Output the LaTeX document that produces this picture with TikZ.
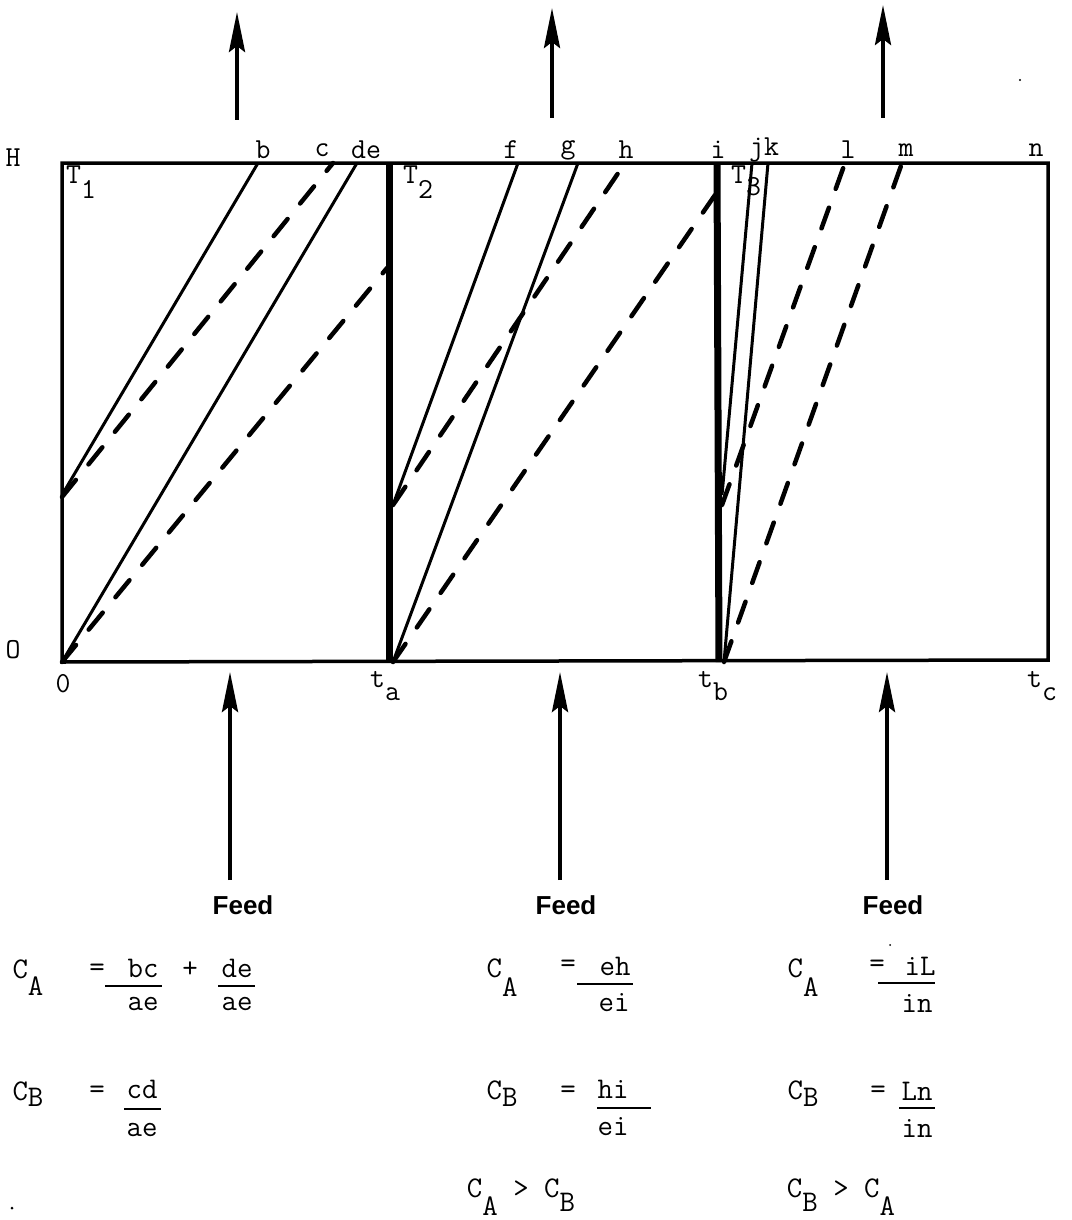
\documentclass[tikz,border=0pt]{standalone}
\usepackage{fontspec}
\newfontfamily\feedfont{Liberation Sans}
\usetikzlibrary{arrows.meta}
\begin{document}
\begin{tikzpicture}[x=1pt,y=-1pt,
  frame/.style={line width=3.5pt},
  divider/.style={line width=7pt},
  solidline/.style={line width=3pt},
  dashline/.style={line width=4.5pt,dash pattern=on 22pt off 20pt,line cap=round},
  flow/.style={line width=4pt,-{Stealth[length=40pt,width=16pt,inset=6pt]}},
  lab/.style={font=\ttfamily\fontsize{29}{29}\selectfont,inner sep=0pt},
  eq/.style={font=\ttfamily\fontsize{30}{30}\selectfont,inner sep=0pt},
  feed/.style={font=\feedfont\bfseries\fontsize{26}{26}\selectfont,inner sep=0pt},
  bar/.style={line width=1.6pt}]
\useasboundingbox (0,0) rectangle (1071,1220);
% frame corners
\coordinate (O) at (62,662);
\coordinate (TL) at (62,163);
\coordinate (TR) at (1048,163);
\coordinate (BR) at (1048,660);
\coordinate (ta0) at (389,662); \coordinate (ta1) at (389,163);
\coordinate (tb0) at (719,662); \coordinate (tb1) at (717,163);
\draw[frame] (O) -- (TL) -- (TR) -- (BR) -- cycle;
\draw[divider] (ta0) -- (ta1);
\draw[divider] (tb0) -- (tb1);
% top points
\coordinate (b) at (258,163);
\coordinate (c) at (333,163);
\coordinate (d) at (357,163);
\coordinate (f) at (518,163);
\coordinate (g) at (578,163);
\coordinate (h) at (625,163);
\coordinate (j) at (752,163);
\coordinate (k) at (768,163);
\coordinate (l) at (845,163);
\coordinate (m) at (902,163);
% start points
\coordinate (s1) at (62,495);
\coordinate (s1d) at (62,497);
\coordinate (s2) at (393,505);
\coordinate (s2b) at (393,662);
\coordinate (s3) at (722,495);
\coordinate (s3d) at (722,505);
\coordinate (s3b) at (724,662);
\coordinate (ea) at (387,268);
\coordinate (eb) at (715,195);
% T1
\draw[solidline] (s1) -- (b);
\draw[dashline] (s1d) -- (c);
\draw[solidline] (O) -- (d);
\draw[dashline] (O) -- (ea);
% T2
\draw[solidline] (s2) -- (f);
\draw[dashline] (s2) -- (h);
\draw[solidline] (s2b) -- (g);
\draw[dashline] (s2b) -- (eb);
% T3
\draw[solidline] (s3) -- (j);
\draw[solidline] (s3b) -- (k);
\draw[dashline] (s3d) -- (l);
\draw[dashline] (s3b) -- (m);
% top labels
\node[lab] (lb) at (263,150) {b};
\node[lab] (lc) at (322,150) {c};
\node[lab] (lde) at (366,150) {de};
\node[lab] (lf) at (511,150) {f};
\node[lab] (lg) at (568,150) {g};
\node[lab] (lh) at (626,150) {h};
\node[lab] (li) at (718,150) {i};
\node[lab] (ljk) at (764,150) {jk};
\node[lab] (ll) at (848,150) {l};
\node[lab] (lm) at (906,150) {m};
\node[lab] (ln) at (1036,150) {n};
\node[lab] (lH) at (13,158) {H};
\node[lab] (lO) at (13,650) {O};
\node[lab,anchor=north west] (T1) at (66,166) {T\raisebox{-15pt}{1}};
\node[lab,anchor=north west] (T2) at (403,166) {T\raisebox{-15pt}{2}};
\node[lab,anchor=north west] (T3) at (731,166) {T\raisebox{-12pt}{3}};
% bottom labels
\node[lab] (l0) at (63,684) {0};
\node[lab,anchor=north west] (lta) at (370,671) {t\raisebox{-13pt}{a}};
\node[lab,anchor=north west] (ltb) at (698,671) {t\raisebox{-13pt}{b}};
\node[lab,anchor=north west] (ltc) at (1027,671) {t\raisebox{-13pt}{c}};
% vent arrows (top)
\coordinate (u1a) at (237,120); \coordinate (u1b) at (237,12);
\coordinate (u2a) at (552,118); \coordinate (u2b) at (552,8);
\coordinate (u3a) at (883,118); \coordinate (u3b) at (883,5);
\draw[flow] (u1a) -- (u1b);
\draw[flow] (u2a) -- (u2b);
\draw[flow] (u3a) -- (u3b);
% feed arrows (bottom)
\node[feed] (F1) at (243,905) {Feed};
\node[feed] (F2) at (566,905) {Feed};
\node[feed] (F3) at (893,905) {Feed};
\coordinate (f1t) at (230,672); \coordinate (f2t) at (560,672); \coordinate (f3t) at (887,672);
\coordinate (f1s) at (230,880); \coordinate (f2s) at (560,880); \coordinate (f3s) at (887,880);
\draw[flow] (f1s) -- (f1t);
\draw[flow] (f2s) -- (f2t);
\draw[flow] (f3s) -- (f3t);
% formulas column 1
\node[eq] (ca1) at (28,978) {C\raisebox{-17pt}{A}};
\node[eq] (q1) at (97,970) {=};
\node[eq] (n1a) at (143,968) {bc};
\node[eq] (d1a) at (143,1004) {ae};
\draw[bar] (105,986) -- (162,986);
\node[eq] (p1) at (190,970) {+};
\node[eq] (n1b) at (237,968) {de};
\node[eq] (d1b) at (237,1004) {ae};
\draw[bar] (218,986) -- (255,986);
\node[eq] (cb1) at (28,1094) {C\raisebox{-6pt}{B}};
\node[eq] (q1b) at (97,1092) {=};
\node[eq] (n1c) at (142,1089) {cd};
\node[eq] (d1c) at (142,1130) {ae};
\draw[bar] (124,1109) -- (161,1109);
% formulas column 2
\node[eq] (ca2) at (502,978) {C\raisebox{-19pt}{A}};
\node[eq] (q2) at (568,966) {=};
\node[eq] (n2a) at (615,966) {eh};
\node[eq] (d2a) at (614,1003) {ei};
\draw[bar] (577,984) -- (633,984);
\node[eq] (cb2) at (502,1094) {C\raisebox{-7pt}{B}};
\node[eq] (q2b) at (568,1092) {=};
\node[eq] (n2b) at (613,1089) {hi};
\node[eq] (d2b) at (613,1127) {ei};
\draw[bar] (597,1108) -- (651,1108);
\node[eq] (cmp2) at (521,1197) {C\raisebox{-18pt}{A} > C\raisebox{-14pt}{B}};
% formulas column 3
\node[eq] (ca3) at (803,978) {C\raisebox{-19pt}{A}};
\node[eq] (q3) at (877,966) {=};
\node[eq] (n3a) at (920,966) {iL};
\node[eq] (d3a) at (917,1003) {in};
\draw[bar] (878,983) -- (935,983);
\node[eq] (cb3) at (803,1094) {C\raisebox{-7pt}{B}};
\node[eq] (q3b) at (878,1092) {=};
\node[eq] (n3b) at (917,1091) {Ln};
\node[eq] (d3b) at (917,1128) {in};
\draw[bar] (899,1108) -- (935,1108);
\node[eq] (cmp3) at (841,1197) {C\raisebox{-14pt}{B} > C\raisebox{-18pt}{A}};
% specks
\fill (12,1208) circle (1.5pt);
\fill (1020,80) circle (1.2pt);
\fill (890,945) circle (1pt);
\end{tikzpicture}
\end{document}
